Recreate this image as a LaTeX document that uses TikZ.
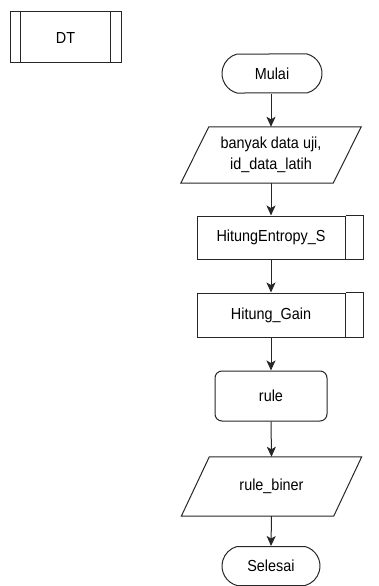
\documentclass[tikz,border=0pt]{standalone}
\usepackage{fontspec}
\setmainfont{Liberation Sans}[FakeStretch=0.9]
\usetikzlibrary{arrows.meta,shapes.misc}
\begin{document}
\begin{tikzpicture}[x=1pt,y=-1pt,
  every node/.style={font=\fontsize{16}{21}\selectfont, inner sep=0pt, align=center},
  ln/.style={draw=black!85, line width=1pt},
  term/.style={ln, rounded rectangle, rounded rectangle arc length=150, minimum width=100pt, minimum height=39pt},
  procbox/.style={ln, rectangle, minimum height=43pt},
  roundbox/.style={ln, rectangle, rounded corners=7pt, minimum width=112pt, minimum height=50pt},
  iobox/.style={rectangle, minimum height=#1, minimum width=152pt},
  flow/.style={line width=1pt, draw=black!85, -{Stealth[length=10pt,width=9pt,inset=2.5pt]}}
]
\useasboundingbox (0,0) rectangle (379,586);

% DT box
\node[ln, rectangle, minimum width=111pt, minimum height=51pt] (dt) at (65.5,37.5) {DT};
\draw[ln] ([xshift=11pt]dt.north west) -- ([xshift=11pt]dt.south west);
\draw[ln] ([xshift=-11pt]dt.north east) -- ([xshift=-11pt]dt.south east);

% Mulai
\node[term] (mulai) at (272,73.5) {Mulai};

% input parallelogram
\node[iobox=56pt] (inp) at (271,155) {banyak data uji,\\id\_data\_latih};
\draw[ln] ([xshift=14pt]inp.north west) -- ([xshift=14pt]inp.north east)
  -- ([xshift=-14pt]inp.south east) -- ([xshift=-14pt]inp.south west) -- cycle;

% HitungEntropy_S
\node[procbox, minimum width=148pt] (he) at (271,237.5) {HitungEntropy\_S};
\draw[ln] (he.north east) -- ++(18,0) |- (he.south east);

% Hitung_Gain
\node[procbox, minimum width=148pt, minimum height=44pt] (hg) at (271,315) {Hitung\_Gain};
\draw[ln] (hg.north east) -- ++(18,0) |- (hg.south east);

% rule
\node[roundbox] (rule) at (271,396) {rule};

% output parallelogram
\node[iobox=59pt] (out) at (271.5,486.5) {rule\_biner};
\draw[ln] ([xshift=14pt]out.north west) -- ([xshift=14pt]out.north east)
  -- ([xshift=-14pt]out.south east) -- ([xshift=-14pt]out.south west) -- cycle;

% Selesai
\node[term, minimum width=98pt] (selesai) at (271,566) {Selesai};

% connectors
\draw[flow] (mulai.south -| inp.north) -- (inp.north);
\draw[flow] (inp.south) -- (he.north);
\draw[flow] (he.south) -- (hg.north);
\draw[flow] (hg.south) -- (rule.north);
\draw[flow] (rule.south) -- (out.north);
\draw[flow] (out.south) -- (selesai.north);
\end{tikzpicture}
\end{document}
